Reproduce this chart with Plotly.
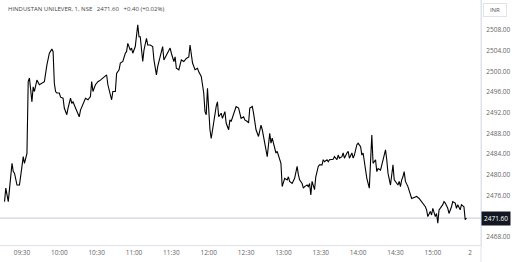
import plotly.graph_objects as go

# minutes since 09:15 and 1-minute close prices
minutes = [1, 2, 4, 7, 8, 9, 11, 13, 15, 16, 17, 19, 20, 21, 23, 24, 25, 27, 29, 31, 33, 35, 37, 39, 40,
           41, 42, 43, 45, 46, 48, 49, 51, 52, 54, 55, 56, 58, 61, 62, 64, 66, 68, 70, 71, 72, 74, 76, 78,
           79, 81, 83, 84, 87, 88, 90, 91, 93, 94, 96, 98,
           99, 100, 102, 103, 104, 106, 108, 109, 110, 112, 113, 115, 116, 118, 120, 121, 123, 124, 126,
           128, 129, 131, 132, 134, 135, 137, 138, 139, 141, 142, 143, 145, 147, 149, 150, 152, 154, 156,
           157, 159, 161, 162, 163, 164, 165, 166, 167, 169, 171, 172, 173, 175, 176, 178, 179, 181, 182,
           183, 185, 187, 189, 190, 191, 193, 194,
           196, 197, 198, 200, 201, 203, 205, 207, 208, 210, 212, 214, 215, 216, 218, 219, 220, 222, 223,
           224, 226, 228, 229, 230, 232, 234, 236, 237, 238, 240, 241, 242, 244, 245, 246, 247, 248, 250,
           251, 253, 254, 256, 257, 258, 260, 261, 262, 265, 266, 268, 269, 270, 272, 273, 274, 276, 277,
           278, 280, 281, 282, 284,
           285, 287, 288, 289, 290, 292, 294, 295, 296, 297, 299, 300, 301, 303, 304, 305, 307, 308, 309,
           311, 312, 313, 314, 315, 317, 318, 319, 320, 321, 322, 323, 325, 327, 328, 330, 332, 334, 336,
           337, 339, 340, 341, 343, 344, 345, 347, 348, 349, 350, 352, 353, 354, 355, 357, 358, 360, 361,
           363, 364, 365, 367, 368, 370, 371, 372]
prices = [2474.8, 2477.4, 2474.8, 2482.2, 2480.6, 2480.3, 2478.0, 2478.0, 2481.6, 2483.5, 2482.2, 2484.1,
          2498.0, 2498.7, 2494.1, 2497.0, 2496.1, 2498.3, 2497.4, 2497.7, 2498.0, 2501.2, 2503.5, 2504.3,
          2503.8, 2497.7, 2496.1, 2495.8, 2495.8, 2495.0, 2494.8, 2492.9, 2491.6, 2492.9, 2494.8, 2493.8,
          2494.1, 2492.9, 2491.2, 2492.5, 2493.8, 2494.8, 2494.5, 2495.1, 2498.0, 2496.1, 2497.4, 2498.0,
          2498.3, 2498.5, 2499.0, 2499.3, 2497.4, 2494.5, 2496.1, 2496.1, 2499.6, 2500.3, 2501.6, 2501.9,
          2503.5,
          2503.8, 2505.4, 2504.1, 2504.5, 2503.5, 2504.8, 2509.0, 2506.7, 2506.7, 2501.9, 2504.1, 2506.4,
          2505.1, 2505.1, 2504.8, 2502.2, 2499.3, 2500.9, 2502.8, 2504.8, 2502.2, 2503.2, 2503.5, 2504.5,
          2503.5, 2501.9, 2502.8, 2500.6, 2500.3, 2501.6, 2502.2, 2501.9, 2502.5, 2502.8, 2505.1, 2501.6,
          2500.3, 2500.6, 2499.9, 2499.0, 2495.8, 2492.2, 2491.6, 2496.7, 2492.5, 2488.7, 2487.0, 2490.6,
          2493.2, 2494.1, 2491.2, 2491.9, 2490.9, 2492.2, 2490.0, 2488.7, 2490.6, 2490.3, 2491.6, 2493.2,
          2492.9, 2491.6, 2490.9, 2491.2, 2490.6,
          2490.3, 2490.0, 2492.9, 2493.2, 2491.9, 2488.7, 2487.4, 2489.6, 2488.7, 2485.8, 2483.5, 2488.0,
          2486.1, 2487.1, 2484.8, 2484.2, 2484.5, 2482.9, 2482.2, 2477.7, 2479.3, 2479.0, 2479.6, 2478.7,
          2478.3, 2479.3, 2481.6, 2480.0, 2479.0, 2478.3, 2477.4, 2477.7, 2478.0, 2477.7, 2478.3, 2476.1,
          2478.7, 2477.1, 2479.6, 2481.6, 2481.9, 2481.9, 2482.9, 2482.5, 2482.9, 2482.5, 2482.9, 2483.0,
          2483.5, 2482.9, 2483.8, 2483.2, 2483.5, 2484.2, 2483.2, 2484.2, 2484.5, 2483.2, 2484.2, 2483.2,
          2483.8, 2485.8,
          2486.1, 2485.4, 2483.8, 2484.2, 2482.2, 2479.3, 2477.4, 2483.2, 2487.7, 2482.2, 2482.9, 2480.6,
          2481.2, 2480.9, 2481.9, 2482.9, 2484.8, 2482.9, 2480.3, 2478.0, 2480.0, 2481.9, 2479.0, 2478.7,
          2478.0, 2478.7, 2477.7, 2479.0, 2479.6, 2480.6, 2478.7, 2477.7, 2475.8, 2475.4, 2475.6, 2475.8,
          2475.4, 2474.8, 2474.5, 2473.8, 2473.2, 2471.9, 2472.9, 2472.2, 2473.5, 2471.9, 2472.5, 2470.6,
          2473.2, 2473.8, 2474.2, 2474.8, 2474.5, 2473.5, 2472.5, 2473.8, 2474.8, 2474.5, 2473.5, 2474.2,
          2473.2, 2474.2, 2473.8, 2471.3, 2471.6]

tick_minutes = [15, 45, 75, 105, 135, 165, 195, 225, 255, 285, 315, 345, 375]
tick_labels = ["09:30", "10:00", "10:30", "11:00", "11:30", "12:00", "12:30",
               "13:00", "13:30", "14:00", "14:30", "15:00", "2"]
price_ticks = [2468, 2476, 2480, 2484, 2488, 2492, 2496, 2500, 2504, 2508]
last_price = 2471.60
title_text = "HINDUSTAN UNILEVER, 1, NSE\u2002 2471.60\u2002 +0.40 (+0.02%)"

FONT = "Open Sans"
GRID = "#e0e3eb"

fig = go.Figure()
fig.add_trace(go.Scatter(x=minutes, y=prices, mode="lines",
                         line=dict(color="#000000", width=1.1), hoverinfo="skip"))

fig.add_shape(type="line", xref="paper", x0=0, x1=1, yref="y", y0=last_price, y1=last_price,
              line=dict(color="#d1d4dc", width=1.2), layer="below")
# right price-scale border extends into time-scale row
fig.add_shape(type="line", xref="paper", x0=1, x1=1, yref="paper", y0=-0.07, y1=1,
              line=dict(color=GRID, width=1))

fig.add_annotation(xref="paper", yref="paper", x=0, y=1, xshift=6, yshift=-3,
                   xanchor="left", yanchor="top", text=title_text, showarrow=False,
                   font=dict(family=FONT, size=6, color="#444444"))
fig.add_annotation(xref="paper", yref="paper", x=1, y=1, xshift=2, yshift=-3,
                   xanchor="left", yanchor="top", text="INR", showarrow=False,
                   bordercolor=GRID, borderwidth=1, borderpad=2, width=18,
                   font=dict(family=FONT, size=6, color="#555555"))
fig.add_annotation(xref="paper", yref="y", x=1, y=last_price, xshift=0,
                   xanchor="left", yanchor="middle", text="%.2f" % last_price, showarrow=False,
                   bgcolor="#131722", borderpad=2,
                   font=dict(family=FONT, size=6.5, color="#ffffff"))

fig.update_layout(
    width=512, height=262,
    margin=dict(l=0, r=31, t=0, b=17),
    paper_bgcolor="white", plot_bgcolor="white",
    showlegend=False,
    font=dict(family=FONT, size=6.5, color="#666666"),
    xaxis=dict(range=[-2.65, 383.7], tickvals=tick_minutes, ticktext=tick_labels,
               showgrid=False, zeroline=False, showline=True, linecolor=GRID, linewidth=1,
               ticks="", ticklabelstandoff=1, fixedrange=True),
    yaxis=dict(range=[2466.4, 2513.8], side="right", tickvals=price_ticks, tickformat=".2f",
               showgrid=False, zeroline=False, showline=True, linecolor=GRID, linewidth=1,
               ticks="", ticklabelstandoff=3, fixedrange=True),
)

fig.write_html("out.html")
